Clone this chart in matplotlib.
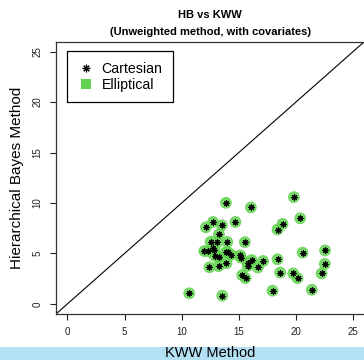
import matplotlib
matplotlib.use("Agg")
import matplotlib.pyplot as plt
from matplotlib.patches import Rectangle
from matplotlib.lines import Line2D

plt.rcParams["font.family"] = ["Liberation Sans", "DejaVu Sans"]

# KWW estimates (x) and Hierarchical Bayes estimates (y)
kww = [13.87, 16.06, 19.82, 20.37, 18.83, 18.39, 12.12, 12.74, 13.52, 14.70,
       13.26, 12.53, 13.09, 13.99, 15.53, 11.98, 12.30, 12.73, 12.87, 12.88,
       13.23, 13.87, 14.05, 14.35, 15.12, 15.18, 16.12, 15.82, 15.77, 17.13,
       16.67, 12.43, 13.23, 13.92, 18.39, 20.58, 22.55, 22.53, 18.62, 19.76,
       20.14, 22.24, 15.30, 15.59, 17.95, 21.39, 10.66, 13.55]
hb = [10.02, 9.56, 10.58, 8.48, 7.93, 7.37, 7.59, 8.12, 7.79, 8.12,
      6.88, 6.16, 6.09, 6.14, 6.12, 5.24, 5.21, 5.53, 5.35, 4.76,
      4.62, 5.14, 5.11, 4.86, 4.81, 4.59, 4.35, 4.03, 3.76, 4.25,
      3.61, 3.63, 3.73, 4.03, 4.42, 5.08, 5.30, 3.96, 3.11, 3.02,
      2.55, 3.02, 2.85, 2.55, 1.31, 1.40, 1.05, 0.82]
ticks = [0, 5, 10, 15, 20, 25]

green = "#61D04F"
asterisk = (8, 2, 0)

fig = plt.figure(figsize=(3.64, 3.60), dpi=100)

# light blue band behind the x label
fig.patches.append(Rectangle((0, 0), 1, 13.5 / 360, transform=fig.transFigure,
                             facecolor="#b4e0f4", edgecolor="none", zorder=0))

ax = fig.add_axes([56 / 364, 1 - 314 / 360, 308.5 / 364, 272.5 / 360])
ax.set_xlim(-1, 26)
ax.set_ylim(-1, 26)

ax.plot([-1, 26], [-1, 26], color="black", linewidth=0.8, zorder=1)
ax.scatter(kww, hb, s=72, color=green, edgecolors="none", alpha=0.85, zorder=2)
ax.scatter(kww, hb, s=16, marker=asterisk, color="black", linewidths=0.8, zorder=3)

ax.set_xticks(ticks)
ax.set_yticks(ticks)
ax.tick_params(direction="out", length=4.5, width=0.8, labelsize=7,
               colors="#222222", pad=5)
for lab in ax.get_yticklabels():
    lab.set_rotation(90)
    lab.set_va("center")
for sp in ax.spines.values():
    sp.set_linewidth(0.9)
    sp.set_color("#333333")

fig.text((56 + 364) / 2 / 364, 1 - 353 / 360, "KWW Method",
         fontsize=10.5, ha="center", va="center")
ax.set_ylabel("Hierarchical Bayes Method", fontsize=11, labelpad=6)
ax.set_title("HB vs KWW\n(Unweighted method, with covariates)",
             fontsize=8, fontweight="bold", linespacing=1.8, pad=5)

handles = [
    Line2D([], [], linestyle="none", marker=asterisk, color="black",
           markersize=5.5, markeredgewidth=0.8),
    Line2D([], [], linestyle="none", marker="s", color=green,
           markersize=7, markeredgewidth=0),
]
leg = ax.legend(handles, ["Cartesian", "Elliptical"], loc="upper left",
                bbox_to_anchor=(0.035, 0.965), fontsize=10.2, frameon=True,
                fancybox=False, framealpha=1, edgecolor="black",
                handlelength=1.2, handletextpad=0.5, borderpad=0.75,
                labelspacing=0.15, borderaxespad=0)
leg.get_frame().set_linewidth(0.9)

fig.savefig("out.png", dpi=100)
